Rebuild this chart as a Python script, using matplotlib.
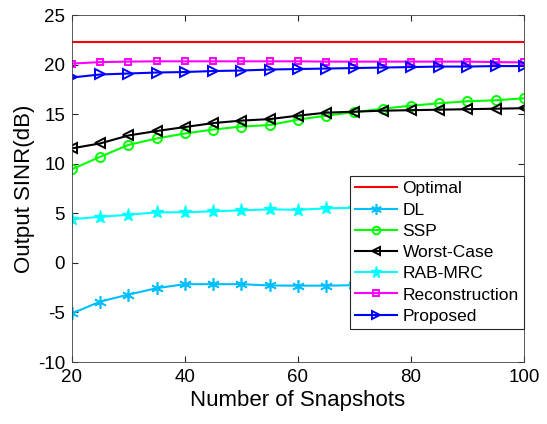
import numpy as np
import matplotlib.pyplot as plt

plt.rcParams['font.family'] = ['Liberation Sans', 'DejaVu Sans']
plt.rcParams['axes.unicode_minus'] = False

snapshots = np.arange(20, 101, 5)
optimal = [22.3] * 17
dl = [-5.1, -3.9, -3.2, -2.55, -2.15, -2.15, -2.15, -2.28, -2.3, -2.3, -2.25, -2.2, -2.2, -2.15, -2.1, -2.1, -2.05]
ssp = [9.45, 10.7, 11.9, 12.55, 13.05, 13.45, 13.75, 13.9, 14.45, 14.85, 15.2, 15.55, 15.85, 16.1, 16.3, 16.4, 16.6]
worst = [11.55, 12.05, 12.85, 13.3, 13.7, 14.1, 14.35, 14.5, 14.85, 15.15, 15.25, 15.35, 15.4, 15.45, 15.5, 15.55, 15.6]
rabmrc = [4.4, 4.65, 4.85, 5.1, 5.1, 5.2, 5.3, 5.4, 5.35, 5.5, 5.55, 5.6, 5.7, 5.75, 5.8, 5.85, 6.0]
recon = [20.1, 20.25, 20.3, 20.33, 20.33, 20.33, 20.33, 20.33, 20.33, 20.3, 20.3, 20.3, 20.3, 20.3, 20.3, 20.25, 20.22]
proposed = [18.7, 19.0, 19.1, 19.2, 19.25, 19.35, 19.4, 19.5, 19.55, 19.6, 19.65, 19.7, 19.75, 19.8, 19.8, 19.85, 19.85]

fig = plt.figure(figsize=(5.47, 4.24), dpi=100)
ax = fig.add_axes([0.1316, 0.1462, 0.8263, 0.8184])

lw = 1.5
ax.plot(snapshots, optimal, color='#ff0000', lw=lw, label='Optimal')
ax.plot(snapshots, dl, color='#00bfff', lw=lw, marker=(6, 2, 0), ms=9, mew=1.2, label='DL')
ax.plot(snapshots, ssp, color='#00ff00', lw=lw, marker='o', ms=6.5, mfc='none', mew=1.4, label='SSP')
ax.plot(snapshots, worst, color='#000000', lw=lw, marker='<', ms=7, mfc='none', mew=1.4, label='Worst-Case')
ax.plot(snapshots, rabmrc, color='#00ffff', lw=lw, marker='*', ms=9.5, mew=1.0, label='RAB-MRC')
ax.plot(snapshots, recon, color='#ff00ff', lw=lw, marker='s', ms=5, mfc='none', mew=1.4, label='Reconstruction')
ax.plot(snapshots, proposed, color='#0000ff', lw=lw, marker='>', ms=7, mfc='none', mew=1.4, label='Proposed')

ax.set_xlim(20, 100)
ax.set_ylim(-10, 25)
ax.set_xticks([20, 40, 60, 80, 100])
ax.set_yticks(np.arange(-10, 26, 5))
ax.tick_params(direction='in', top=True, right=True, labelsize=13.5, length=4,
               color='#262626', labelcolor='#000000', pad=5)
for s in ax.spines.values():
    s.set_color('#404040')
    s.set_linewidth(0.6)
ax.set_xlabel('Number of Snapshots', fontsize=16, labelpad=3)
ax.set_ylabel('Output SINR(dB)', fontsize=16, labelpad=2)

leg = ax.legend(loc='upper right', bbox_to_anchor=(1.0, 0.536), markerscale=0.85,
                fontsize=12.5, frameon=True, fancybox=False, borderaxespad=0,
                handlelength=2.45, handletextpad=0.3, labelspacing=0.35, borderpad=0.3)
leg.get_frame().set_edgecolor('#262626')
leg.get_frame().set_linewidth(0.8)
leg.get_frame().set_alpha(1)

fig.savefig('out.png', dpi=100)
